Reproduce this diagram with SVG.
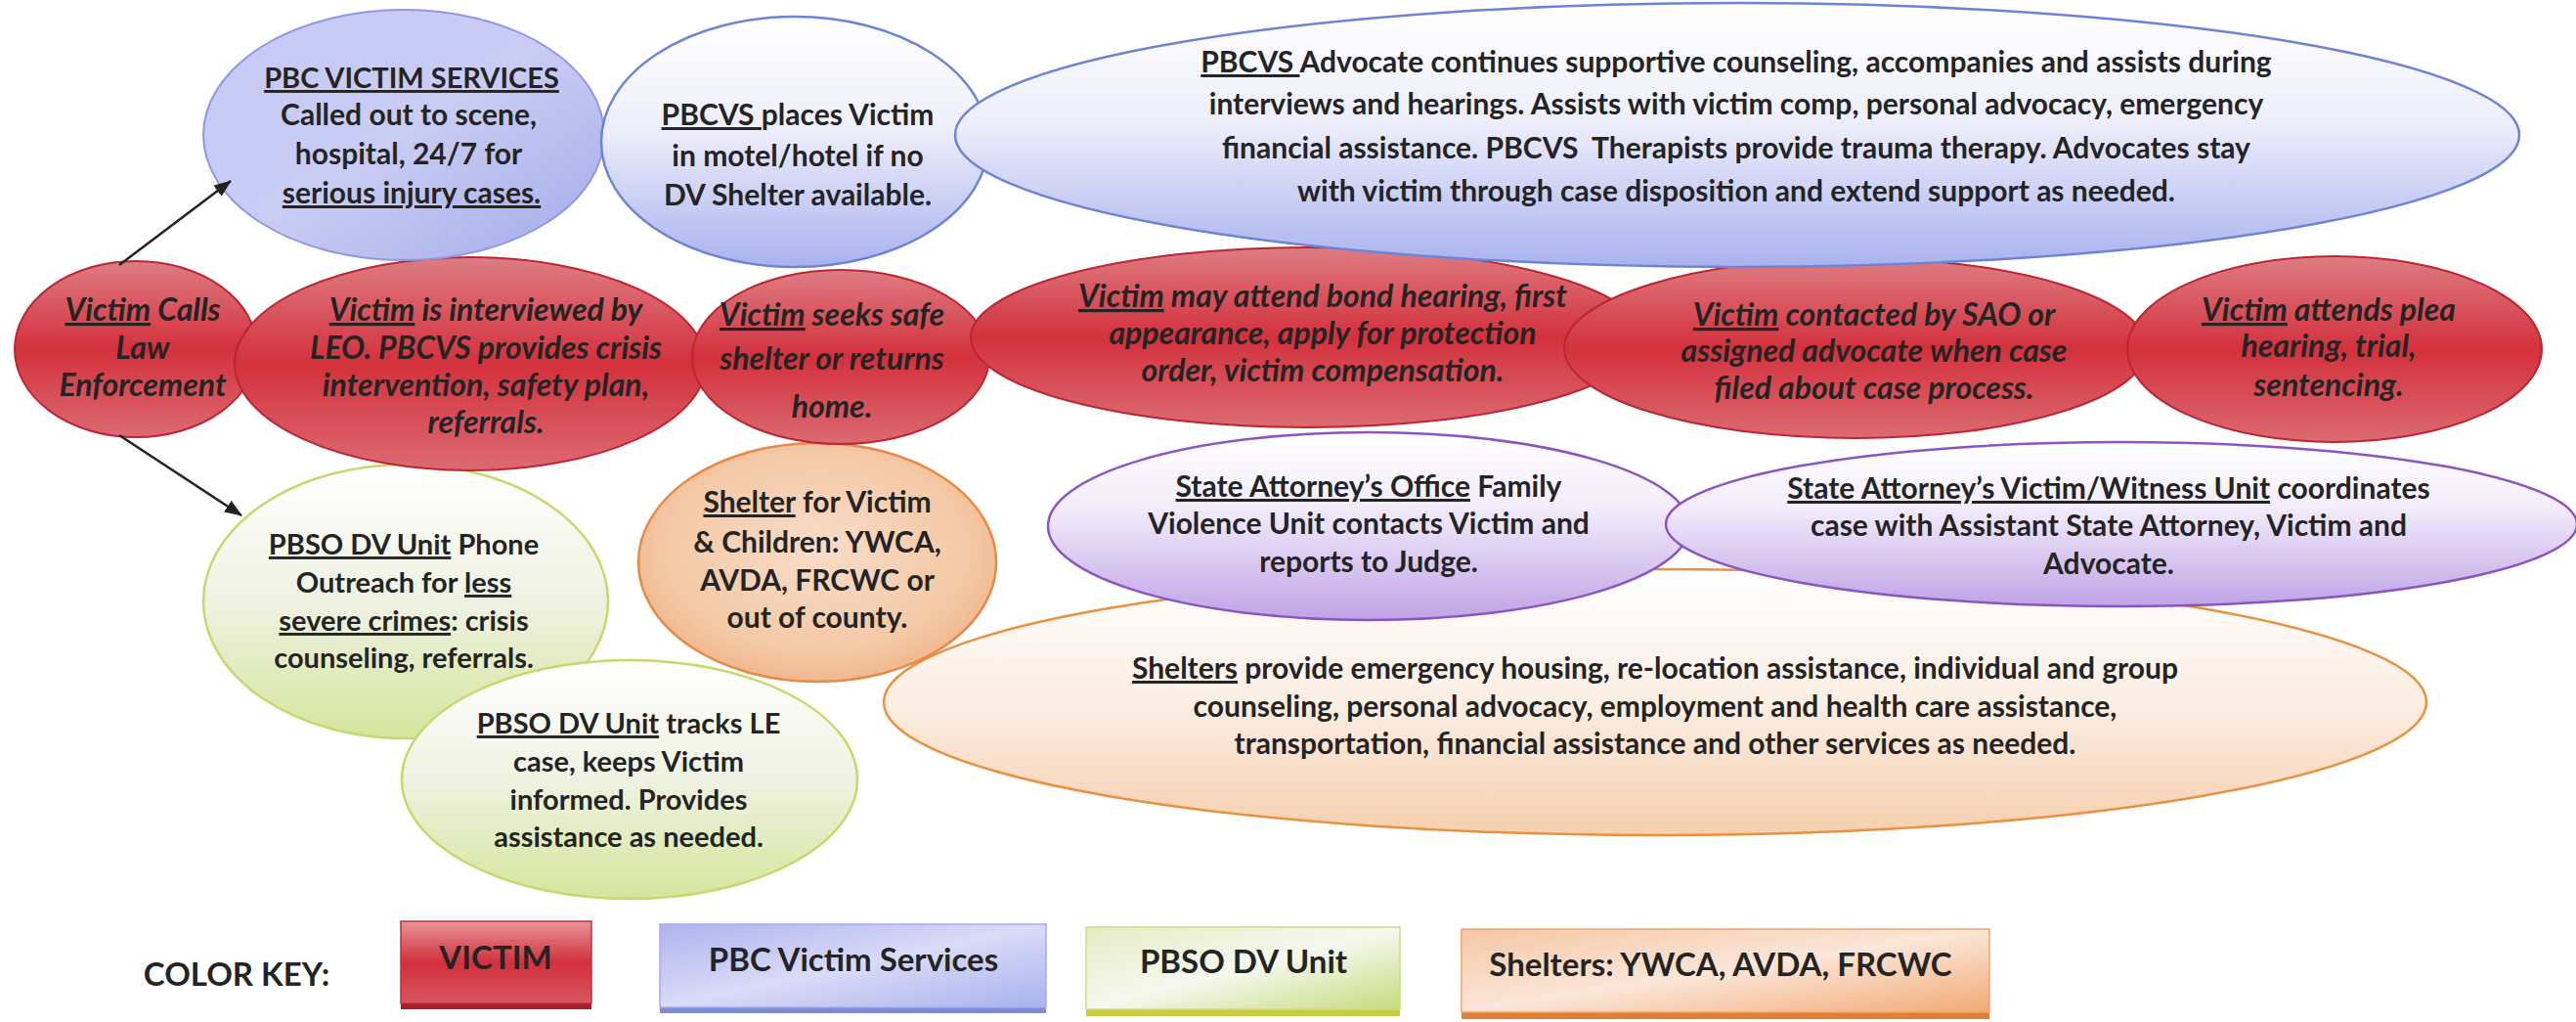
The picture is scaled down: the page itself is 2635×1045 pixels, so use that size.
<svg xmlns="http://www.w3.org/2000/svg" width="2635" height="1045" viewBox="0 0 2635 1045">
<defs>
<linearGradient id="gRed" x1="0" y1="0" x2="0" y2="1">
<stop offset="0" stop-color="#de7c83"/><stop offset="0.5" stop-color="#d3313c"/><stop offset="1" stop-color="#dc6a72"/>
</linearGradient>
<linearGradient id="gBlue1" x1="0" y1="0" x2="1" y2="1">
<stop offset="0" stop-color="#c6c9f3"/><stop offset="0.5" stop-color="#c9ccf3"/><stop offset="1" stop-color="#a3abea"/>
</linearGradient>
<linearGradient id="gBlue2" x1="0" y1="0" x2="0" y2="1">
<stop offset="0" stop-color="#ffffff"/><stop offset="0.45" stop-color="#eeeefb"/><stop offset="1" stop-color="#a9b2ee"/>
</linearGradient>
<linearGradient id="gPurple" x1="0" y1="0" x2="0" y2="1">
<stop offset="0" stop-color="#ffffff"/><stop offset="0.4" stop-color="#f2ecfa"/><stop offset="1" stop-color="#c0a3e6"/>
</linearGradient>
<linearGradient id="gGreen" x1="0" y1="0" x2="0" y2="1">
<stop offset="0" stop-color="#ffffff"/><stop offset="0.5" stop-color="#eff2e2"/><stop offset="1" stop-color="#d6e59c"/>
</linearGradient>
<radialGradient id="gOrange1" cx="0.5" cy="0.45" r="0.6">
<stop offset="0" stop-color="#f8dcc8"/><stop offset="0.7" stop-color="#f4c9a6"/><stop offset="1" stop-color="#efb186"/>
</radialGradient>
<linearGradient id="gOrange2" x1="0" y1="0" x2="0" y2="1">
<stop offset="0" stop-color="#ffffff"/><stop offset="0.5" stop-color="#fbeee3"/><stop offset="1" stop-color="#f6cfae"/>
</linearGradient>
<linearGradient id="kRed" x1="0" y1="0" x2="0" y2="1">
<stop offset="0" stop-color="#e7959a"/><stop offset="0.5" stop-color="#d2303c"/><stop offset="1" stop-color="#da5761"/>
</linearGradient>
<linearGradient id="kBlue" x1="0" y1="0" x2="1" y2="1">
<stop offset="0" stop-color="#aeb3ee"/><stop offset="0.5" stop-color="#d9dbf7"/><stop offset="1" stop-color="#a9b1ee"/>
</linearGradient>
<linearGradient id="kGreen" x1="0" y1="0" x2="1" y2="1">
<stop offset="0" stop-color="#e4edc4"/><stop offset="0.5" stop-color="#f6f8ee"/><stop offset="1" stop-color="#c6db7c"/>
</linearGradient>
<linearGradient id="kOrange" x1="0" y1="0" x2="1" y2="1">
<stop offset="0" stop-color="#f5c7a4"/><stop offset="0.5" stop-color="#fbe6d8"/><stop offset="1" stop-color="#f1aa74"/>
</linearGradient>
<marker id="arrow" markerWidth="18" markerHeight="14" refX="17" refY="7" orient="auto" markerUnits="userSpaceOnUse" viewBox="0 0 18 14">
<path d="M0,0 L18,7 L0,14 z" fill="#222"/>
</marker>
</defs>
<style>
text{font-family:Lato,"Open Sans","Liberation Sans",sans-serif;font-weight:bold;fill:#242424;text-anchor:middle;font-size:30px}
.it{font-style:italic;font-size:32px}
.g{font-size:29px}
.h{font-size:29px}
.u{text-decoration:underline}
.red{fill:url(#gRed);stroke:#bd2530;stroke-width:2}
.blue1{fill:url(#gBlue1);stroke:#8f98e2;stroke-width:2}
.blue2{fill:url(#gBlue2);stroke:#6d84d6;stroke-width:2.5}
.purple{fill:url(#gPurple);stroke:#8a55c2;stroke-width:2.5}
.green{fill:url(#gGreen);stroke:#c6d86c;stroke-width:2.5}
.orange1{fill:url(#gOrange1);stroke:#e78a46;stroke-width:2.5}
.orange2{fill:url(#gOrange2);stroke:#e8913f;stroke-width:2.5}
.key{font-size:33px}
.conn{stroke:#222;stroke-width:2.5;fill:none}
</style>
<rect width="2635" height="1045" fill="#ffffff"/>

<g id="n-shelters-services">
<ellipse class="orange2" cx="1693" cy="718" rx="789" ry="136"/>
<text x="1693" y="694"><tspan class="u">Shelters</tspan> provide emergency housing, re-location assistance, individual and group</text>
<text x="1693" y="733">counseling, personal advocacy, employment and health care assistance,</text>
<text x="1693" y="771">transportation, financial assistance and other services as needed.</text>
</g>

<g id="n-sao-fvu">
<ellipse class="purple" cx="1400" cy="538" rx="328" ry="96"/>
<text x="1400" y="508"><tspan class="u">State Attorney’s Office</tspan> Family</text>
<text x="1400" y="546">Violence Unit contacts Victim and</text>
<text x="1400" y="585">reports to Judge.</text>
</g>

<g id="n-sao-vwu">
<ellipse class="purple" cx="2170" cy="536" rx="466" ry="84"/>
<text x="2157" y="510"><tspan class="u">State Attorney’s Victim/Witness Unit</tspan> coordinates</text>
<text x="2157" y="548">case with Assistant State Attorney, Victim and</text>
<text x="2157" y="587">Advocate.</text>
</g>

<g id="n-pbso-phone">
<ellipse class="green" cx="415" cy="615" rx="207" ry="140"/>
<text class="g" x="413" y="567"><tspan class="u">PBSO DV Unit</tspan> Phone</text>
<text class="g" x="413" y="606">Outreach for <tspan class="u">less</tspan></text>
<text class="g" x="413" y="645"><tspan class="u">severe crimes</tspan>: crisis</text>
<text class="g" x="413" y="683">counseling, referrals.</text>
</g>

<g id="n-pbso-tracks">
<ellipse class="green" cx="644" cy="797" rx="233" ry="122"/>
<text class="g" x="643" y="750"><tspan class="u">PBSO DV Unit</tspan> tracks LE</text>
<text class="g" x="643" y="789">case, keeps Victim</text>
<text class="g" x="643" y="828">informed. Provides</text>
<text class="g" x="643" y="866">assistance as needed.</text>
</g>

<g id="n-shelter">
<ellipse class="orange1" cx="836" cy="575" rx="183" ry="122"/>
<text x="836" y="524"><tspan class="u">Shelter</tspan> for Victim</text>
<text x="836" y="565">&amp; Children: YWCA,</text>
<text x="836" y="604">AVDA, FRCWC or</text>
<text x="836" y="642">out of county.</text>
</g>

<g id="n-calls">
<ellipse class="red" cx="139" cy="357" rx="124" ry="90"/>
<text class="it" x="146" y="328"><tspan class="u">Victim</tspan> Calls</text>
<text class="it" x="146" y="367">Law</text>
<text class="it" x="146" y="405">Enforcement</text>
</g>

<g id="n-interviewed">
<ellipse class="red" cx="481" cy="372" rx="241" ry="109"/>
<text class="it" x="497" y="328"><tspan class="u">Victim</tspan> is interviewed by</text>
<text class="it" x="497" y="367">LEO. PBCVS provides crisis</text>
<text class="it" x="497" y="405">intervention, safety plan,</text>
<text class="it" x="497" y="443">referrals.</text>
</g>

<g id="n-seeks">
<ellipse class="red" cx="860" cy="365" rx="152" ry="89"/>
<text class="it" x="851" y="333"><tspan class="u">Victim</tspan> seeks safe</text>
<text class="it" x="851" y="378">shelter or returns</text>
<text class="it" x="851" y="427">home.</text>
</g>

<g id="n-bond">
<ellipse class="red" cx="1337" cy="345" rx="344" ry="92"/>
<text class="it" x="1353" y="314"><tspan class="u">Victim</tspan> may attend bond hearing, first</text>
<text class="it" x="1353" y="352">appearance, apply for protection</text>
<text class="it" x="1353" y="390">order, victim compensation.</text>
</g>

<g id="n-contacted">
<ellipse class="red" cx="1898" cy="356" rx="298" ry="92"/>
<text class="it" x="1917" y="333"><tspan class="u">Victim</tspan> contacted by SAO or</text>
<text class="it" x="1917" y="370">assigned advocate when case</text>
<text class="it" x="1917" y="408">filed about case process.</text>
</g>

<g id="n-plea">
<ellipse class="red" cx="2388" cy="357" rx="212" ry="95"/>
<text class="it" x="2382" y="328"><tspan class="u">Victim</tspan> attends plea</text>
<text class="it" x="2382" y="365">hearing, trial,</text>
<text class="it" x="2382" y="405">sentencing.</text>
</g>

<g id="n-pbcvs">
<ellipse class="blue1" cx="413" cy="138" rx="205" ry="128"/>
<text x="421" y="90" class="u h">PBC VICTIM SERVICES</text>
<text x="418" y="128">Called out to scene,</text>
<text x="418" y="168">hospital, 24/7 for</text>
<text x="421" y="208" class="u">serious injury cases.</text>
</g>

<g id="n-motel">
<ellipse class="blue2" cx="813" cy="145" rx="198" ry="128"/>
<text x="816" y="128"><tspan class="u">PBCVS </tspan>places Victim</text>
<text x="816" y="170">in motel/hotel if no</text>
<text x="816" y="210">DV Shelter available.</text>
</g>

<g id="n-advocate">
<ellipse class="blue2" cx="1777" cy="138" rx="800" ry="135"/>
<text x="1776" y="74"><tspan class="u">PBCVS </tspan>Advocate continues supportive counseling, accompanies and assists during</text>
<text x="1776" y="117">interviews and hearings. Assists with victim comp, personal advocacy, emergency</text>
<text x="1776" y="162" xml:space="preserve">financial assistance. PBCVS  Therapists provide trauma therapy. Advocates stay</text>
<text x="1776" y="206">with victim through case disposition and extend support as needed.</text>
</g>

<g id="connectors">
<line class="conn" x1="122" y1="271" x2="236" y2="185" marker-end="url(#arrow)"/>
<line class="conn" x1="122" y1="445" x2="247" y2="527" marker-end="url(#arrow)"/>
</g>

<g id="legend">
<text class="key" x="242" y="1008">COLOR KEY:</text>
<g id="key-victim">
<rect x="410" y="946" width="195" height="86" fill="#a3202a"/>
<rect x="410" y="942" width="195" height="84" fill="url(#kRed)" stroke="#c2303a" stroke-width="1.5"/>
<text class="key" x="507" y="991">VICTIM</text>
</g>
<g id="key-pbcvs">
<rect x="675" y="949" width="395" height="87" fill="#7c8cdc"/>
<rect x="675" y="945" width="395" height="85" fill="url(#kBlue)" stroke="#a5acea" stroke-width="1.5"/>
<text class="key" x="873" y="993">PBC Victim Services</text>
</g>
<g id="key-pbso">
<rect x="1111" y="952" width="321" height="87" fill="#c9cf3c"/>
<rect x="1111" y="948" width="321" height="84" fill="url(#kGreen)" stroke="#cbdc86" stroke-width="1.5"/>
<text class="key" x="1272" y="995">PBSO DV Unit</text>
</g>
<g id="key-shelters">
<rect x="1495" y="954" width="540" height="88" fill="#e07f32"/>
<rect x="1495" y="950" width="540" height="85" fill="url(#kOrange)" stroke="#f0a46e" stroke-width="1.5"/>
<text class="key" x="1760" y="998">Shelters: YWCA, AVDA, FRCWC</text>
</g>
</g>
</svg>
